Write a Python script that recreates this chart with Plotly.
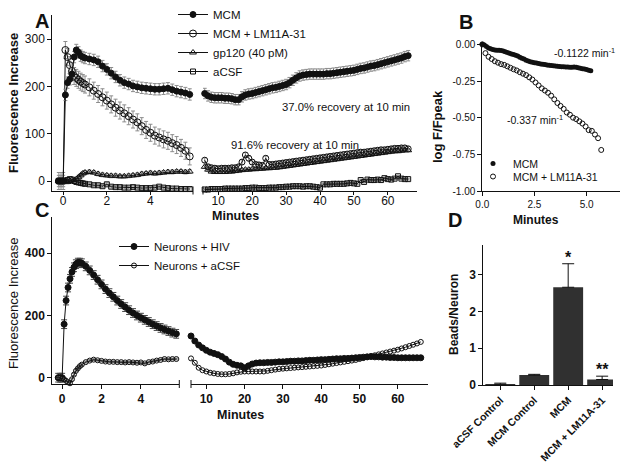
import plotly.graph_objects as go

# ---------------- data ----------------
# Panel A (left segment, minutes)
A_TIME_L = [-0.2, -0.1, 0.0, 0.1, 0.2, 0.3, 0.4, 0.5, 0.6, 0.7, 0.8, 0.9, 1.0,
            1.2, 1.4, 1.6, 1.8, 2.0, 2.2, 2.4, 2.6, 2.8, 3.0, 3.2, 3.4, 3.6, 3.8,
            4.0, 4.2, 4.4, 4.6, 4.8, 5.0, 5.2, 5.4, 5.6, 5.8]
A_MCM_L = [0, 0, 0, 182, 208, 215, 226, 262, 277, 272, 265, 262, 260,
           258, 256, 252, 243, 236, 228, 220, 213, 208, 205, 201, 199, 197, 196,
           195, 194, 194, 195, 196, 193, 190, 188, 186, 183]
A_LM_L = [0, 0, 0, 277, 262, 245, 232, 222, 218, 214, 210, 207, 204,
          198, 191, 184, 177, 170, 162, 155, 149, 143, 137, 130, 124, 116, 108,
          102, 96, 92, 88, 85, 80, 76, 70, 64, 52]
A_GP_L = [0, 0, 0, 0, -2, 0, 3, 2, 4, 8, 12, 16, 18,
          19, 18, 15, 13, 12, 11, 11, 10, 10, 11, 12, 13, 15, 16,
          17, 16, 17, 18, 19, 19, 20, 20, 19, 20]
A_ACSF_L = [0, 0, 0, 0, 2, 4, 3, 0, -2, -3, -4, -5, -6,
            -7, -9, -9, -11, -7, -12, -13, -13, -14, -14, -13, -14, -15, -15,
            -15, -14, -12, -14, -15, -16, -16, -17, -17, -17]
A_ERR_MCM = 12
A_ERR_LM = 18

# Panel A (right segment, minutes)
A_TIME_R = [6, 7, 8, 9, 10, 11, 12, 13, 14, 15, 16, 17, 18, 19, 20, 21, 22, 23, 24, 25,
            26, 27, 28, 29, 30, 31, 32, 33, 34, 35, 36, 37, 38, 39, 40, 41, 42, 43, 44, 45,
            46, 47, 48, 49, 50, 51, 52, 53, 54, 55, 56, 57, 58, 59, 60, 61, 62, 63, 64, 65, 66]
A_MCM_R = [185, 180, 177, 176, 176, 176, 175, 175, 174, 172,
           172, 178, 182, 184, 185, 187, 189, 191, 193, 195,
           197, 198, 200, 202, 204, 208, 213, 218, 222, 224,
           225, 226, 226, 226, 226, 226, 227, 227, 228, 229,
           230, 231, 232, 233, 234, 236, 238, 239, 241, 243,
           244, 246, 248, 250, 252, 254, 256, 258, 260, 263, 265]
A_LM_R = [44, 30, 28, 27, 26, 27, 27, 27, 28, 28,
          30, 40, 55, 48, 40, 35, 34, 33, 48, 35,
          35, 36, 37, 38, 39, 40, 41, 42, 43, 44,
          45, 46, 47, 48, 49, 50, 51, 52, 53, 54,
          55, 56, 57, 58, 59, 60, 61, 61, 62, 63,
          64, 65, 66, 66, 67, 68, 69, 69, 70, 70, 68]
A_GP_R = [30, 24, 20, 19, 19, 19, 19, 20, 20, 21,
          22, 23, 24, 24, 25, 25, 26, 26, 27, 27,
          28, 28, 29, 30, 31, 32, 33, 34, 35, 36,
          37, 38, 39, 40, 41, 42, 43, 44, 45, 46,
          47, 48, 49, 50, 51, 52, 53, 54, 55, 56,
          57, 58, 59, 60, 61, 62, 63, 63, 64, 65, 65]
A_ACSF_R = [-18, -18, -17, -17, -17, -17, -16, -16, -16, -16,
            -16, -16, -15, -15, -14, -14, -15, -15, -15, -14,
            -14, -14, -13, -13, -12, -12, -11, -11, -11, -12,
            -11, -11, -12, -13, -14, -7, -7, -7, -6, -6,
            -6, -6, -5, -4, -5, -6, 2, -2, 3, 2,
            2, 3, 2, 6, 4, 3, 5, 10, 5, 4, 4]
A_ERR_MCM_R = 11
A_ERR_LM_R = 5

# Panel B
B_TIME_MCM = [0.0, 0.1, 0.2, 0.3, 0.4, 0.5, 0.6, 0.7, 0.8, 0.9,
              1.0, 1.1, 1.2, 1.3, 1.4, 1.5, 1.6, 1.7, 1.8, 1.9,
              2.0, 2.1, 2.2, 2.3, 2.4, 2.5, 2.6, 2.7, 2.8, 2.9,
              3.0, 3.1, 3.2, 3.3, 3.4, 3.5, 3.6, 3.7, 3.8, 3.9,
              4.0, 4.1, 4.2, 4.3, 4.4, 4.5, 4.6, 4.7, 4.8, 4.9,
              5.0, 5.1, 5.2]
B_MCM = [0, -0.005, -0.015, -0.025, -0.03, -0.035, -0.038, -0.04, -0.04, -0.042,
         -0.045, -0.05, -0.055, -0.06, -0.066, -0.07, -0.075, -0.08, -0.088, -0.095,
         -0.1, -0.108, -0.113, -0.118, -0.122, -0.126, -0.128, -0.131, -0.134, -0.136,
         -0.138, -0.14, -0.142, -0.144, -0.146, -0.148, -0.15, -0.151, -0.152, -0.153,
         -0.154, -0.155, -0.156, -0.156, -0.155, -0.157, -0.16, -0.163, -0.166, -0.168,
         -0.172, -0.176, -0.18]
B_TIME_LM = [0.0, 0.15, 0.3, 0.45, 0.6, 0.75, 0.9, 1.05, 1.2, 1.35,
             1.5, 1.65, 1.8, 1.95, 2.1, 2.25, 2.4, 2.55, 2.7, 2.85,
             3.0, 3.15, 3.3, 3.45, 3.6, 3.75, 3.9, 4.05, 4.2, 4.35,
             4.5, 4.65, 4.8, 4.95, 5.1, 5.25, 5.4, 5.55, 5.7]
B_LM = [0, -0.06, -0.085, -0.1, -0.115, -0.125, -0.135, -0.14, -0.15, -0.16,
        -0.17, -0.178, -0.19, -0.2, -0.21, -0.225, -0.24, -0.26, -0.28, -0.3,
        -0.315, -0.33, -0.35, -0.375, -0.4, -0.42, -0.44, -0.465, -0.48, -0.5,
        -0.51, -0.525, -0.54, -0.56, -0.585, -0.59, -0.615, -0.64, -0.72]

# Panel C
C_TIME_L = A_TIME_L
C_HIV_L = [0, 0, 0, 172, 248, 290, 318, 340, 355, 365, 370, 370, 368,
           358, 345, 330, 315, 300, 285, 272, 260, 248, 237, 227, 217, 208, 200,
           193, 186, 179, 172, 166, 160, 155, 150, 145, 141]
C_ACSF_L = [0, 0, -3, -5, -10, -15, -18, -5, 10, 22, 30, 37, 42,
            50, 55, 58, 56, 54, 52, 51, 51, 50, 50, 49, 50, 49, 48,
            49, 46, 50, 52, 55, 57, 60, 59, 60, 60]
C_ERR_HIV = 14
C_TIME_R = A_TIME_R
C_HIV_R = [134, 118, 105, 96, 88, 82, 78, 74, 68, 60,
           50, 43, 40, 38, 32, 38, 44, 47, 48, 48,
           49, 49, 50, 51, 51, 52, 53, 53, 54, 54,
           55, 56, 56, 57, 58, 58, 59, 60, 61, 61,
           62, 62, 63, 64, 65, 66, 67, 68, 67, 67,
           66, 66, 65, 65, 64, 64, 64, 64, 64, 64, 64]
C_ACSF_R = [62, 48, 32, 24, 20, 16, 14, 12, 11, 11,
            12, 14, 17, 19, 20, 20, 20, 20, 20, 20,
            22, 24, 26, 28, 29, 30, 31, 32, 33, 34,
            35, 36, 37, 38, 39, 41, 43, 45, 47, 49,
            51, 53, 55, 57, 60, 63, 66, 69, 72, 75,
            78, 81, 84, 87, 90, 94, 98, 102, 106, 110, 115]

# Panel D
D_CATS = ["aCSF Control", "MCM Control", "MCM", "MCM + LM11A-31"]
D_VALUES = [0.02, 0.27, 2.66, 0.15]
D_ERR = [0.03, 0.02, 0.64, 0.09]
D_STARS = ["", "", "*", "**"]

# ---------------- figure ----------------
W, H = 629, 467
FONT = "Arial, 'Liberation Sans', sans-serif"
INK = "#111111"
ERRC = "#8c8c8c"


def dx(a, b):
    return [a / W, b / W]


def dy(top, bottom):
    return [1 - bottom / H, 1 - top / H]


fig = go.Figure()


def series(x, y, xa, ya, name, symbol, size, legend="legend", show=False,
           err=None, errcolor=ERRC, errw=2, mode="lines+markers", color=INK):
    marker = dict(symbol=symbol, size=size, color=color,
                  line=dict(width=1, color=color))
    kw = {}
    if err is not None:
        kw["error_y"] = dict(type="constant", value=err, color=errcolor,
                             thickness=1, width=errw)
    fig.add_trace(go.Scatter(x=x, y=y, xaxis=xa, yaxis=ya, name=name,
                             mode=mode, marker=marker,
                             line=dict(color=INK, width=1),
                             showlegend=show, legend=legend, cliponaxis=False,
                             **kw))


# Panel A
series(A_TIME_L, A_ACSF_L, "x", "y", "aCSF", "square-open", 5, err=3)
series(A_TIME_L, A_GP_L, "x", "y", "gp120 (40 pM)", "triangle-up-open", 6, err=4)
series(A_TIME_L, A_LM_L, "x", "y", "MCM + LM11A-31", "circle-open", 7, err=A_ERR_LM)
series(A_TIME_L, A_MCM_L, "x", "y", "MCM", "circle", 6, err=A_ERR_MCM)
series(A_TIME_R, A_ACSF_R, "x2", "y", "aCSF", "square-open", 5, err=2)
series(A_TIME_R, A_GP_R, "x2", "y", "gp120 (40 pM)", "triangle-up-open", 6, err=3)
series(A_TIME_R, A_LM_R, "x2", "y", "MCM + LM11A-31", "circle-open", 6, err=A_ERR_LM_R)
series(A_TIME_R, A_MCM_R, "x2", "y", "MCM", "circle", 6, err=A_ERR_MCM_R)
# legend entries for A (in order)
for nm, sym, sz in [("MCM", "circle", 6), ("MCM + LM11A-31", "circle-open", 7),
                    ("gp120 (40 pM)", "triangle-up-open", 6), ("aCSF", "square-open", 5)]:
    fig.add_trace(go.Scatter(x=[None], y=[None], xaxis="x", yaxis="y", name=nm,
                             mode="lines+markers",
                             marker=dict(symbol=sym, size=sz, color=INK, line=dict(width=1, color=INK)),
                             line=dict(color=INK, width=1), showlegend=True, legend="legend"))

# Panel B (each entry in its own legend box to control row spacing)
fig.add_trace(go.Scatter(x=B_TIME_MCM, y=B_MCM, xaxis="x3", yaxis="y2", name="MCM",
                         mode="markers", marker=dict(symbol="circle", size=5, color=INK),
                         showlegend=True, legend="legend2", cliponaxis=False))
fig.add_trace(go.Scatter(x=B_TIME_LM, y=B_LM, xaxis="x3", yaxis="y2", name="MCM + LM11A-31",
                         mode="markers",
                         marker=dict(symbol="circle-open", size=5, color=INK, line=dict(width=1, color=INK)),
                         showlegend=True, legend="legend4", cliponaxis=False))

# Panel C
series(C_TIME_L, C_HIV_L, "x4", "y3", "Neurons + HIV", "circle", 6, legend="legend3",
       show=True, err=C_ERR_HIV, errcolor="#444444", errw=3)
series(C_TIME_L, C_ACSF_L, "x4", "y3", "Neurons + aCSF", "circle-open", 5, legend="legend3",
       show=True, err=3, errcolor="#777777")
series(C_TIME_R, C_HIV_R, "x5", "y3", "Neurons + HIV", "circle", 6, legend="legend3")
series(C_TIME_R, C_ACSF_R, "x5", "y3", "Neurons + aCSF", "circle-open", 5, legend="legend3")

# Panel D
fig.add_trace(go.Bar(x=D_CATS, y=D_VALUES, xaxis="x6", yaxis="y4", width=0.88,
                     marker=dict(color="#303030", line=dict(width=0)),
                     error_y=dict(type="data", array=D_ERR, arrayminus=[0] * len(D_ERR),
                                  symmetric=False, color=INK, thickness=1, width=6),
                     showlegend=False))

axis_base = dict(showline=True, linecolor=INK, linewidth=1, ticks="outside",
                 ticklen=4, tickwidth=1, tickcolor=INK, showgrid=False,
                 zeroline=False, fixedrange=True, automargin=False)


def tf(size, bold=False):
    d = dict(family=FONT, size=size, color=INK)
    if bold:
        d["weight"] = "bold"
    return d


leg_base = dict(xanchor="left", yanchor="top", bgcolor="rgba(0,0,0,0)",
                tracegroupgap=0, itemclick=False, itemdoubleclick=False)

fig.update_layout(
    width=W, height=H, margin=dict(l=0, r=0, t=0, b=0, pad=0, autoexpand=False),
    paper_bgcolor="white", plot_bgcolor="rgba(0,0,0,0)",
    font=dict(family=FONT, color=INK),
    xaxis=dict(axis_base, domain=dx(52.3, 193), range=[-0.5, 5.95], anchor="y",
               tickvals=[0, 2, 4], tickfont=tf(12), ticklen=3, ticklabelstandoff=-4),
    xaxis2=dict(axis_base, domain=dx(203, 417), range=[5.5, 68.6], anchor="y",
                tickvals=[10, 20, 30, 40, 50, 60], tickfont=tf(12), ticklen=3,
                ticklabelstandoff=-4),
    yaxis=dict(axis_base, domain=dy(15, 190.7), range=[-20.5, 351], anchor="x",
               tickvals=[0, 100, 200, 300], tickfont=tf(12)),
    xaxis3=dict(axis_base, domain=dx(482.3, 620), range=[0, 6.6], anchor="y2",
                tickvals=[0, 2.5, 5], ticktext=["0.0", "2.5", "5.0"], tickfont=tf(10)),
    yaxis2=dict(axis_base, domain=dy(42, 191), range=[-1.0, 0.016], anchor="x3",
                tickvals=[0, -0.25, -0.5, -0.75, -1.0],
                ticktext=["0.00", "-0.25", "-0.50", "-0.75", "-1.00"], tickfont=tf(10)),
    xaxis4=dict(axis_base, domain=dx(52.3, 179.3), range=[-0.5, 5.95], anchor="y3",
                tickvals=[0, 2, 4], tickfont=tf(12, True)),
    xaxis5=dict(axis_base, domain=dx(191, 427.7), range=[6.0, 67.8], anchor="y3",
                tickvals=[10, 20, 30, 40, 50, 60], tickfont=tf(12, True)),
    yaxis3=dict(axis_base, domain=dy(217, 384), range=[-20.3, 516.7], anchor="x4",
                tickvals=[0, 200, 400], tickfont=tf(12, True)),
    xaxis6=dict(axis_base, domain=dx(483.3, 613), range=[-0.5, 3.32], anchor="y4",
                type="category", tickangle=-45, tickfont=tf(10.5, True)),
    yaxis4=dict(axis_base, domain=dy(245, 385), range=[0, 3.81], anchor="x6",
                tickvals=[0, 1, 2, 3], tickfont=tf(12, True)),
    legend=dict(leg_base, x=173 / W, y=1.0, font=tf(11.5)),
    legend2=dict(leg_base, x=473 / W, y=1 - 149 / H, font=tf(10.5)),
    legend4=dict(leg_base, x=473 / W, y=1 - 162 / H, font=tf(10.5)),
    legend3=dict(leg_base, x=114 / W, y=1 - 232 / H, font=tf(11.5)),
    showlegend=True,
)


def ann(text, x, y, size, bold=False, angle=0, **kw):
    fig.add_annotation(text=text, x=x / W, y=1 - y / H, xref="paper", yref="paper",
                       showarrow=False, textangle=angle, font=tf(size, bold),
                       xanchor="center", yanchor="middle", **kw)


# panel letters
ann("A", 42, 21, 20, True)
ann("B", 466, 22, 20, True)
ann("C", 42, 210, 20, True)
ann("D", 455, 220, 20, True)
# axis titles
ann("Fluorescence Increase", 13, 103, 13, True, -90)
ann("Minutes", 235, 216, 12.5, True)
ann("log F/Fpeak", 437, 127, 13, True, -90)
ann("Minutes", 536, 220, 12, True)
ann("Fluorescence Increase", 13, 303, 13, False, -90)
ann("Minutes", 240, 415, 12.5, True)
ann("Beads/Neuron", 454, 315, 12, True, -90)
# text notes
ann("37.0% recovery at 10 min", 346, 107, 11.3)
ann("91.6% recovery at 10 min", 295, 145, 11.3)
ann("-0.1122 min<sup>-1</sup>", 584, 53, 10.5)
ann("-0.337 min<sup>-1</sup>", 535, 120, 10.5)

# significance stars
for cat, v, e, s in zip(D_CATS, D_VALUES, D_ERR, D_STARS):
    if s:
        fig.add_annotation(text=s, x=cat, y=v + e, xref="x6", yref="y4", showarrow=False,
                           yanchor="bottom", font=tf(16, True), yshift=-4)

# axis-break ticks
for xp, y0, y1 in [(193, 186.5, 194.5), (203, 186.5, 194.5), (179.3, 380, 388), (191, 380, 388)]:
    fig.add_shape(type="line", xref="paper", yref="paper", x0=xp / W, x1=xp / W,
                  y0=1 - y0 / H, y1=1 - y1 / H, line=dict(color=INK, width=1))

fig.write_html("out.html", config={"displayModeBar": False},
               post_script="document.body.style.margin='0px';document.body.style.overflow='hidden';")
